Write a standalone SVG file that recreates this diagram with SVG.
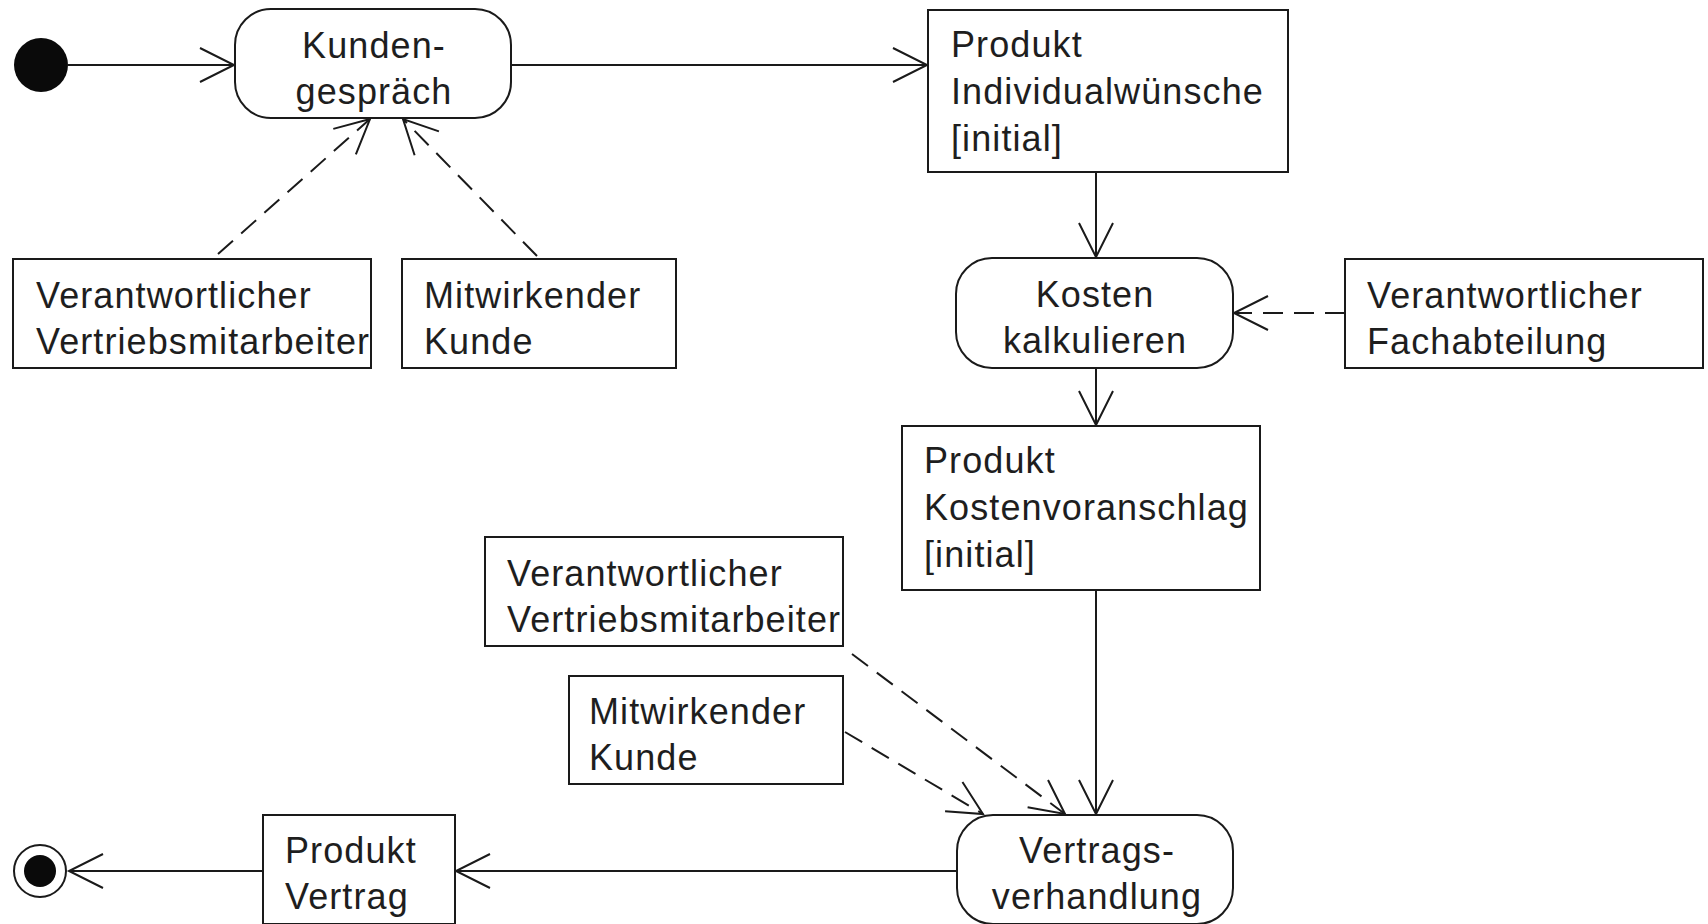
<svg xmlns="http://www.w3.org/2000/svg" width="1708" height="924" viewBox="0 0 1708 924">
  <style>
    .box { fill: #fff; stroke: #1a1a1a; stroke-width: 2; }
    .lbl { font-family: "Liberation Sans", Arial, sans-serif; font-size: 36px; letter-spacing: 1.1px; fill: #1e1e1e; }
    .mid { text-anchor: middle; }
    .flow { fill: none; stroke: #1a1a1a; stroke-width: 2; marker-end: url(#open); }
    .dep { fill: none; stroke: #1a1a1a; stroke-width: 2; stroke-dasharray: 20 11; marker-end: url(#open); }
  </style>
  <defs>
    <!-- open V arrowhead, drawn in user units -->
    <marker id="open" markerUnits="userSpaceOnUse" viewBox="-40 -22 44 44" markerWidth="44" markerHeight="44" refX="0" refY="0" orient="auto" overflow="visible">
      <path d="M-34,-17 L0,0 L-34,17" fill="none" stroke="#1a1a1a" stroke-width="2" stroke-dasharray="none"/>
    </marker>
  </defs>

  <rect width="1708" height="924" fill="#fff"/>

  <!-- connectors -->
  <g id="connectors">
    <path class="flow" d="M68,65 H234"/>
    <path class="flow" d="M511,65 H927"/>
    <path class="flow" d="M1096,172 V257"/>
    <path class="flow" d="M1096,368 V425"/>
    <path class="flow" d="M1096,590 V814"/>
    <path class="flow" d="M957,871 H456"/>
    <path class="flow" d="M263,871 H69"/>
    <path class="dep" d="M218,254 L370,119"/>
    <path class="dep" d="M537,256 L403,119"/>
    <path class="dep" d="M1345,313 H1234"/>
    <path class="dep" d="M852,654 L1065,814"/>
    <path class="dep" d="M845,732 L983,814"/>
  </g>

  <!-- start and end -->
  <g id="start">
    <circle cx="41" cy="65" r="27" fill="#0a0a0a"/>
  </g>
  <g id="end">
    <circle cx="40" cy="871" r="26" fill="#fff" stroke="#1a1a1a" stroke-width="2"/>
    <circle cx="40" cy="871" r="16" fill="#0a0a0a"/>
  </g>

  <!-- actions -->
  <g id="kundengespraech">
    <rect class="box" x="235" y="9" width="276" height="109" rx="36" ry="36"/>
    <text class="lbl mid" x="374" y="58">Kunden-</text>
    <text class="lbl mid" x="374" y="104">gespräch</text>
  </g>
  <g id="kosten-kalkulieren">
    <rect class="box" x="956" y="258" width="277" height="110" rx="36" ry="36"/>
    <text class="lbl mid" x="1095" y="307">Kosten</text>
    <text class="lbl mid" x="1095" y="353">kalkulieren</text>
  </g>
  <g id="vertragsverhandlung">
    <rect class="box" x="957" y="815" width="276" height="109" rx="36" ry="36"/>
    <text class="lbl mid" x="1097" y="863">Vertrags-</text>
    <text class="lbl mid" x="1097" y="909">verhandlung</text>
  </g>

  <!-- objects -->
  <g id="produkt-individualwuensche">
    <rect class="box" x="928" y="10" width="360" height="162"/>
    <text class="lbl" x="951" y="57">Produkt</text>
    <text class="lbl" x="951" y="104">Individualwünsche</text>
    <text class="lbl" x="951" y="151">[initial]</text>
  </g>
  <g id="produkt-kostenvoranschlag">
    <rect class="box" x="902" y="426" width="358" height="164"/>
    <text class="lbl" x="924" y="473">Produkt</text>
    <text class="lbl" x="924" y="520">Kostenvoranschlag</text>
    <text class="lbl" x="924" y="567">[initial]</text>
  </g>
  <g id="produkt-vertrag">
    <rect class="box" x="263" y="815" width="192" height="109"/>
    <text class="lbl" x="285" y="863">Produkt</text>
    <text class="lbl" x="285" y="909">Vertrag</text>
  </g>

  <!-- participants -->
  <g id="vertrieb-1">
    <rect class="box" x="13" y="259" width="358" height="109"/>
    <text class="lbl" x="36" y="308">Verantwortlicher</text>
    <text class="lbl" x="36" y="354">Vertriebsmitarbeiter</text>
  </g>
  <g id="kunde-1">
    <rect class="box" x="402" y="259" width="274" height="109"/>
    <text class="lbl" x="424" y="308">Mitwirkender</text>
    <text class="lbl" x="424" y="354">Kunde</text>
  </g>
  <g id="fachabteilung">
    <rect class="box" x="1345" y="259" width="358" height="109"/>
    <text class="lbl" x="1367" y="308">Verantwortlicher</text>
    <text class="lbl" x="1367" y="354">Fachabteilung</text>
  </g>
  <g id="vertrieb-2">
    <rect class="box" x="485" y="537" width="358" height="109"/>
    <text class="lbl" x="507" y="586">Verantwortlicher</text>
    <text class="lbl" x="507" y="632">Vertriebsmitarbeiter</text>
  </g>
  <g id="kunde-2">
    <rect class="box" x="569" y="676" width="274" height="108"/>
    <text class="lbl" x="589" y="724">Mitwirkender</text>
    <text class="lbl" x="589" y="770">Kunde</text>
  </g>
</svg>
